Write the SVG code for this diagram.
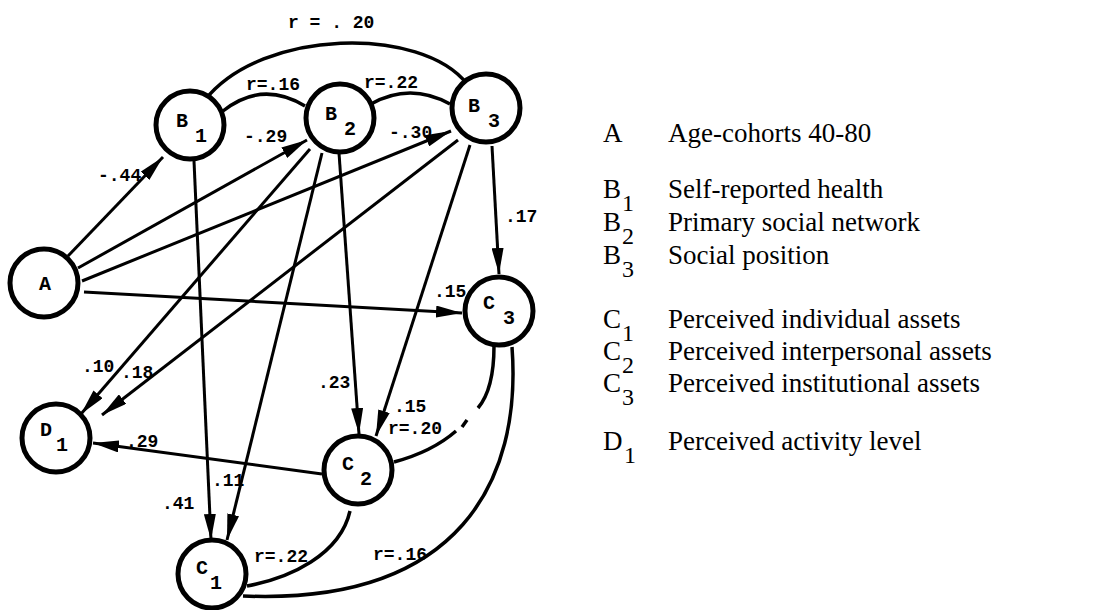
<svg xmlns="http://www.w3.org/2000/svg" width="1104" height="610" viewBox="0 0 1104 610">
  <style>
    .node circle { fill: #fff; stroke: #000; stroke-width: 5; }
    .nl { font-family: "Liberation Mono", "DejaVu Sans Mono", monospace; font-weight: bold; font-size: 20px; fill: #000; text-anchor: middle; }
    .lbl { font-family: "Liberation Mono", "DejaVu Sans Mono", monospace; font-weight: bold; font-size: 18px; fill: #000; }
    .edge { fill: none; stroke: #000; stroke-width: 3; }
    .arc { fill: none; stroke: #000; stroke-width: 3.5; }
    .key { font-family: "Liberation Serif", "DejaVu Serif", serif; font-size: 27px; fill: #000; }
    .keysub { font-family: "Liberation Serif", "DejaVu Serif", serif; font-size: 24px; fill: #000; }
  </style>
  <defs>
    <marker id="arrow" viewBox="0 0 26 12" refX="26" refY="6" markerWidth="26" markerHeight="12" markerUnits="userSpaceOnUse" orient="auto">
      <path d="M0,0 L26,6 L0,12 Z" fill="#000"/>
    </marker>
  </defs>
  <rect width="1104" height="610" fill="#fff"/>

  <!-- paths and correlations -->
  <g id="connectors">
    <!-- correlations among the B variables -->
    <path class="arc" d="M205,100 C262,28 422,26 467,84"/>
    <path class="arc" d="M223,111 Q262,80 305,106"/>
    <path class="arc" d="M371,104 Q410,82 450,104"/>
    <!-- paths from A -->
    <line class="edge" x1="68" y1="256" x2="163" y2="157" marker-end="url(#arrow)"/>
    <line class="edge" x1="78" y1="268" x2="307" y2="140" marker-end="url(#arrow)"/>
    <line class="edge" x1="82" y1="281" x2="451" y2="131" marker-end="url(#arrow)"/>
    <line class="edge" x1="84" y1="292" x2="462" y2="313" marker-end="url(#arrow)"/>
    <!-- paths from B1 -->
    <line class="edge" x1="194" y1="161" x2="211" y2="540" marker-end="url(#arrow)"/>
    <!-- paths from B2 -->
    <line class="edge" x1="322" y1="153" x2="227" y2="540" marker-end="url(#arrow)"/>
    <line class="edge" x1="310" y1="149" x2="81" y2="414" marker-end="url(#arrow)"/>
    <line class="edge" x1="339" y1="153" x2="359" y2="434" marker-end="url(#arrow)"/>
    <!-- paths from B3 -->
    <line class="edge" x1="458" y1="140" x2="102" y2="415" marker-end="url(#arrow)"/>
    <line class="edge" x1="470" y1="145" x2="376" y2="436" marker-end="url(#arrow)"/>
    <line class="edge" x1="492" y1="146" x2="499" y2="274" marker-end="url(#arrow)"/>
    <!-- path from C2 -->
    <line class="edge" x1="322" y1="474" x2="93" y2="443" marker-end="url(#arrow)"/>
    <!-- correlations among the C variables -->
    <path class="arc" d="M494,346 C494,375 489,395 478,408"/>
    <path class="arc" d="M467,420 L462,427"/>
    <path class="arc" d="M456,431 C440,445 420,455 394,462"/>
    <path class="arc" d="M350,511 C340,555 290,578 247,586"/>
    <path class="arc" d="M512,347 C522,480 460,605 243,596"/>
  </g>

  <!-- coefficients -->
  <g id="coefficients">
    <text class="lbl" x="288" y="28" xml:space="preserve">r = . 20</text>
    <text class="lbl" x="246" y="90">r=.16</text>
    <text class="lbl" x="364" y="88">r=.22</text>
    <text class="lbl" x="244" y="142">-.29</text>
    <text class="lbl" x="389" y="138">-.30</text>
    <text class="lbl" x="98" y="181">-.44</text>
    <text class="lbl" x="505" y="222">.17</text>
    <text class="lbl" x="434" y="297">.15</text>
    <text class="lbl" x="82" y="372">.10</text>
    <text class="lbl" x="121" y="378">.18</text>
    <text class="lbl" x="318" y="388">.23</text>
    <text class="lbl" x="394" y="412">.15</text>
    <text class="lbl" x="388" y="434">r=.20</text>
    <text class="lbl" x="126" y="447">.29</text>
    <text class="lbl" x="212" y="486">.11</text>
    <text class="lbl" x="162" y="509">.41</text>
    <text class="lbl" x="254" y="562">r=.22</text>
    <text class="lbl" x="373" y="560">r=.16</text>
  </g>

  <!-- nodes -->
  <g id="B1" class="node"><circle cx="190" cy="125" r="34"/><text class="nl" x="182" y="127">B</text><text class="nl" x="201" y="142">1</text></g>
  <g id="B2" class="node"><circle cx="340" cy="118" r="34"/><text class="nl" x="331" y="120">B</text><text class="nl" x="350" y="135">2</text></g>
  <g id="B3" class="node"><circle cx="486" cy="108" r="34"/><text class="nl" x="474" y="112">B</text><text class="nl" x="494" y="127">3</text></g>
  <g id="A" class="node"><circle cx="44" cy="283" r="34"/><text class="nl" x="45" y="290">A</text></g>
  <g id="C3" class="node"><circle cx="499" cy="311" r="34"/><text class="nl" x="489" y="309">C</text><text class="nl" x="509" y="324">3</text></g>
  <g id="C2" class="node"><circle cx="358" cy="470" r="34"/><text class="nl" x="348" y="470">C</text><text class="nl" x="366" y="485">2</text></g>
  <g id="C1" class="node"><circle cx="212" cy="574" r="34"/><text class="nl" x="202" y="574">C</text><text class="nl" x="216" y="589">1</text></g>
  <g id="D1" class="node"><circle cx="56" cy="438" r="34"/><text class="nl" x="46" y="436">D</text><text class="nl" x="62" y="451">1</text></g>

  <!-- key -->
  <g id="key">
    <text class="key" x="603" y="142">A</text>
    <text class="key" x="668" y="142">Age-cohorts 40-80</text>
    <text class="key" x="603" y="198">B</text><text class="keysub" x="622" y="211">1</text>
    <text class="key" x="668" y="198">Self-reported health</text>
    <text class="key" x="603" y="231">B</text><text class="keysub" x="622" y="244">2</text>
    <text class="key" x="668" y="231">Primary social network</text>
    <text class="key" x="603" y="264">B</text><text class="keysub" x="622" y="277">3</text>
    <text class="key" x="668" y="264">Social position</text>
    <text class="key" x="603" y="328">C</text><text class="keysub" x="622" y="341">1</text>
    <text class="key" x="668" y="328">Perceived individual assets</text>
    <text class="key" x="603" y="360">C</text><text class="keysub" x="622" y="373">2</text>
    <text class="key" x="668" y="360">Perceived interpersonal assets</text>
    <text class="key" x="603" y="392">C</text><text class="keysub" x="622" y="405">3</text>
    <text class="key" x="668" y="392">Perceived institutional assets</text>
    <text class="key" x="603" y="450">D</text><text class="keysub" x="624" y="463">1</text>
    <text class="key" x="668" y="450">Perceived activity level</text>
  </g>
</svg>
